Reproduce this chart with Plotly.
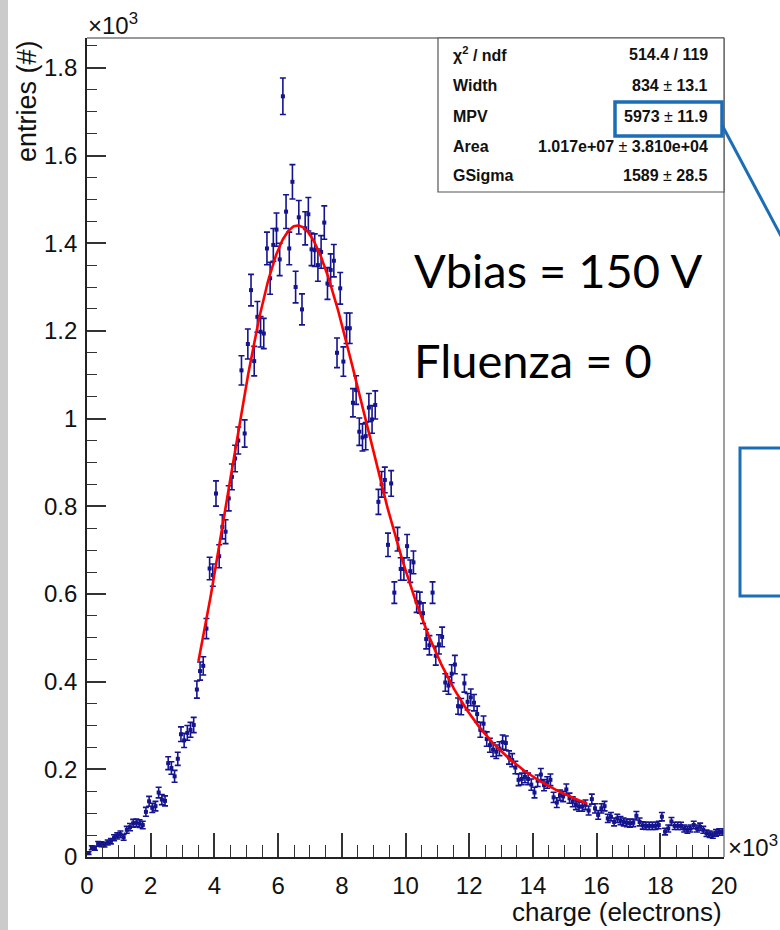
import numpy as np
import plotly.graph_objects as go

# ---- histogram: charge spectrum, 200 bins of 100 electrons from 0 to 20000 ----
bin_low = 0.0
bin_width = 100.0
entries = [
    9, 21, 20, 30, 29, 28, 33, 36, 44, 48,
    52, 45, 62, 68, 77, 78, 76, 73, 103, 127,
    112, 116, 147, 131, 128, 214, 203, 184, 224, 280,
    266, 283, 290, 301, 382, 424, 436, 521, 658, 643,
    829, 686, 753, 742, 818, 867, 909, 950, 1110, 966,
    1170, 1293, 1131, 1232, 1198, 1194, 1388, 1320, 1396, 1431,
    1363, 1735, 1472, 1388, 1540, 1300, 1459, 1249, 1434, 1466,
    1386, 1384, 1350, 1380, 1447, 1308, 1339, 1360, 1150, 1297,
    1130, 1206, 1206, 1036, 1065, 970, 957, 960, 1025, 998,
    1031, 810, 850, 860, 712, 852, 603, 725, 657, 657,
    709, 652, 672, 582, 580, 556, 497, 483, 603, 459,
    485, 502, 398, 391, 418, 439, 344, 343, 396, 354,
    364, 352, 326, 290, 304, 269, 255, 245, 240, 247,
    262, 260, 227, 221, 204, 176, 178, 183, 178, 165,
    147, 174, 188, 164, 170, 176, 136, 124, 141, 138,
    154, 134, 126, 119, 115, 115, 119, 106, 132, 111,
    96, 111, 116, 88, 92, 80, 88, 83, 80, 78,
    77, 78, 94, 80, 72, 71, 71, 71, 71, 73,
    92, 58, 65, 81, 71, 71, 71, 65, 62, 65,
    73, 65, 69, 62, 54, 52, 50, 55, 57, 57,
]

# ---- Landau (x) Gaussian fit result ----
fit_chi2 = 514.4
fit_ndf = 119
fit_width, fit_width_err = 834, 13.1
fit_mpv, fit_mpv_err = 5973, 11.9
fit_area, fit_area_err = 1.017e07, 3.810e04
fit_gsigma, fit_gsigma_err = 1589, 28.5
fit_range = (3500, 15700)

# ---- axis tick labels ----
x_ticks = [0, 2, 4, 6, 8, 10, 12, 14, 16, 18, 20]
y_ticks = [0, 0.2, 0.4, 0.6, 0.8, 1.0, 1.2, 1.4, 1.6, 1.8]
y_tick_text = ["0", "0.2", "0.4", "0.6", "0.8", "1", "1.2", "1.4", "1.6", "1.8"]

counts = np.asarray(entries, dtype=float)
centers = bin_low + bin_width * (np.arange(counts.size) + 0.5)
errors = np.sqrt(counts)


def landau_density(lam):
    """Standard Landau density (1/pi) * int exp(-t ln t - lam t) sin(pi t) dt."""
    t = np.linspace(0.0, 50.0, 20001)
    h = t[1] - t[0]
    w = np.full(t.size, 2.0)
    w[1::2] = 4.0
    w[0] = w[-1] = 1.0
    w *= h / 3.0
    tlogt = np.zeros_like(t)
    tlogt[1:] = t[1:] * np.log(t[1:])
    kern = np.sin(np.pi * t) * w
    out = np.empty(lam.size)
    for s in range(0, lam.size, 64):
        blk = lam[s:s + 64, None]
        out[s:s + 64] = np.exp(-tlogt[None, :] - blk * t[None, :]) @ kern / np.pi
    return out


def langaus(x, width, mpv, area, gsigma):
    mpc = mpv + 0.22278298 * width
    lam_tab = np.linspace(-3.5, 30.0, 1676)
    phi_tab = landau_density(lam_tab)
    u = (np.arange(400) + 0.5) / 400 * 10.0 - 5.0
    du = u[1] - u[0]
    xx = x[:, None] + gsigma * u[None, :]
    phi = np.interp((xx - mpc) / width, lam_tab, phi_tab, left=0.0, right=0.0)
    g = np.exp(-0.5 * u ** 2) / np.sqrt(2 * np.pi)
    return area * (phi / width * g[None, :]).sum(axis=1) * du


x_fit = np.linspace(fit_range[0], fit_range[1], 400)
y_fit = langaus(x_fit, fit_width, fit_mpv, fit_area, fit_gsigma)

# ---- page geometry (pixels) ----
W, H = 780, 930
L, R, T, B = 87, 724, 38, 857


def px(xp):
    return (xp - L) / (R - L)


def py(yp):
    return (B - yp) / (B - T)


FONT = "Liberation Sans, Arial, Helvetica, sans-serif"
NAVY = "#14148e"
SLIDE_BLUE = "#1b6eb6"

fig = go.Figure()

fig.add_trace(go.Scatter(
    x=centers / 1000.0, y=counts / 1000.0,
    mode="markers",
    marker=dict(symbol="square", size=4, color=NAVY),
    error_y=dict(type="data", array=errors / 1000.0, width=3, thickness=1.6, color=NAVY),
    error_x=dict(type="constant", value=bin_width / 2000.0, width=0, thickness=1.6, color=NAVY),
    hoverinfo="skip",
))

fig.add_trace(go.Scatter(
    x=x_fit / 1000.0, y=y_fit / 1000.0,
    mode="lines", line=dict(color="#ff0000", width=2.6),
    hoverinfo="skip",
))

fig.update_xaxes(
    range=[0, 20], tickvals=x_ticks, ticktext=[str(v) for v in x_ticks],
    ticks="inside", ticklen=24, tickwidth=1.5, tickcolor="#333333",
    minor=dict(ticks="inside", ticklen=12, dtick=0.5, tickwidth=1.3, tickcolor="#333333", showgrid=False),
    showline=True, linecolor="#222222", linewidth=1.6,
    showgrid=False, zeroline=False, automargin=False,
    tickfont=dict(family=FONT, size=24, color="#111111"),
    ticklabelstandoff=6,
)
fig.update_yaxes(
    range=[0, 1.868], tickvals=y_ticks, ticktext=y_tick_text,
    ticks="inside", ticklen=19, tickwidth=1.5, tickcolor="#333333",
    minor=dict(ticks="inside", ticklen=10, dtick=0.05, tickwidth=1.3, tickcolor="#333333", showgrid=False),
    showline=True, linecolor="#222222", linewidth=1.6,
    showgrid=False, zeroline=False, automargin=False,
    tickfont=dict(family=FONT, size=24, color="#111111"),
    ticklabelstandoff=3,
)

shapes = [
    # slide background strip on the left edge
    dict(type="rect", xref="paper", yref="paper", x0=px(0), x1=px(8), y0=py(H), y1=py(0),
         fillcolor="#cbcbcb", line=dict(width=0), layer="below"),
    # frame top and right
    dict(type="line", xref="paper", yref="paper", x0=0, x1=1, y0=1, y1=1, line=dict(color="#777777", width=1.4)),
    dict(type="line", xref="paper", yref="paper", x0=1, x1=1, y0=0, y1=1, line=dict(color="#777777", width=1.4)),
    # statistics box
    dict(type="rect", xref="paper", yref="paper", x0=px(438), x1=px(724), y0=py(192), y1=py(38),
         fillcolor="white", line=dict(color="#555555", width=1.2)),
    # highlight around the MPV value and the callout
    dict(type="rect", xref="paper", yref="paper", x0=px(615), x1=px(722), y0=py(136), y1=py(102),
         line=dict(color=SLIDE_BLUE, width=3.5)),
    dict(type="line", xref="paper", yref="paper", x0=px(722), x1=px(790), y0=py(125), y1=py(253),
         line=dict(color=SLIDE_BLUE, width=3)),
    dict(type="rect", xref="paper", yref="paper", x0=px(740), x1=px(800), y0=py(596), y1=py(448),
         line=dict(color=SLIDE_BLUE, width=3)),
]

ann = []


def text(s, xp, yp, size, xanchor="left", yanchor="middle", family=FONT, angle=0, color="#111111"):
    ann.append(dict(text=s, x=px(xp), y=py(yp), xref="paper", yref="paper", showarrow=False,
                    xanchor=xanchor, yanchor=yanchor, textangle=angle,
                    font=dict(family=family, size=size, color=color)))


# exponent labels and axis titles
text("\u00d710<sup>3</sup>", 86, 24, 24)
text("\u00d710<sup>3</sup>", 726, 846, 24)
text("charge (electrons)", 724, 912, 26, xanchor="right")
text("entries (#)", 27, 38, 27, xanchor="center", yanchor="top", angle=-90)

# statistics box contents
rows = [
    ("<b>\u03c7<sup>2</sup> / ndf</b>", f"<b>{fit_chi2:.1f} / {fit_ndf}</b>"),
    ("<b>Width</b>", f"<b>{fit_width}</b> \u00b1 <b>{fit_width_err:.1f}</b>"),
    ("<b>MPV</b>", f"<b>{fit_mpv}</b> \u00b1 <b>{fit_mpv_err:.1f}</b>"),
    ("<b>Area</b>", f"<b>{fit_area:.3e}</b> \u00b1 <b>{fit_area_err:.3e}</b>"),
    ("<b>GSigma</b>", f"<b>{fit_gsigma}</b> \u00b1 <b>{fit_gsigma_err:.1f}</b>"),
]
row_y = [54, 85, 116, 147, 176]
for (lab, val), yy in zip(rows, row_y):
    text(lab, 451, yy, 16)
    text(val, 710, yy, 16, xanchor="right")

# run conditions
text("Vbias = 150 V", 412, 270, 47, family="Lato, Carlito, sans-serif", color="#000000")
text("Fluenza = 0", 412, 360, 47, family="Lato, Carlito, sans-serif", color="#000000")

fig.update_layout(
    width=W, height=H,
    margin=dict(l=L, r=W - R, t=T, b=H - B, autoexpand=False),
    paper_bgcolor="white", plot_bgcolor="white",
    showlegend=False,
    shapes=shapes, annotations=ann,
)

fig.write_html("out.html")
